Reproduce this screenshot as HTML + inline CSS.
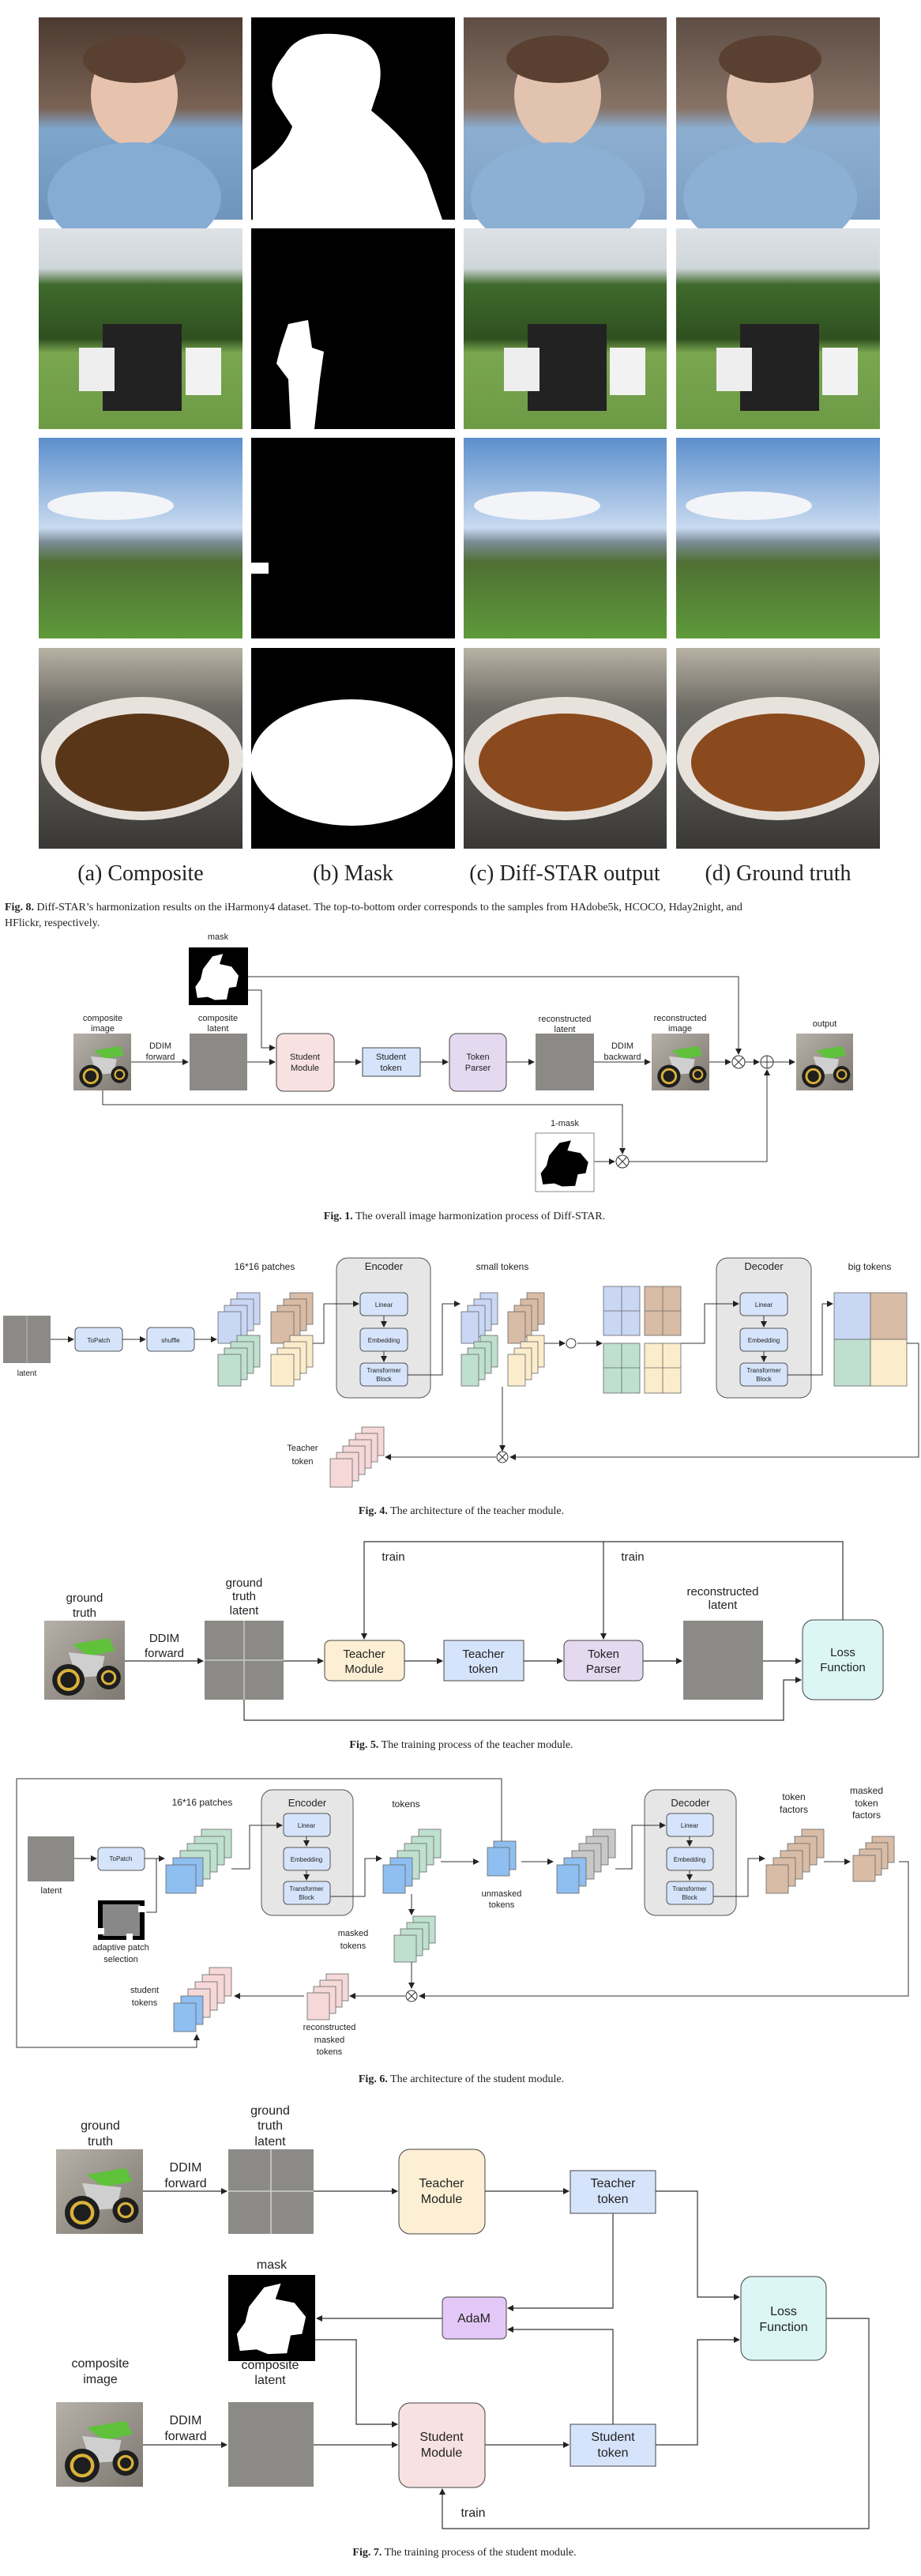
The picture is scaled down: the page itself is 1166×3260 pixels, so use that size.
<!DOCTYPE html>
<html><head><meta charset="utf-8"><style>
html,body{margin:0;padding:0;background:#fff;}
svg{display:block;}
.s{font-family:"Liberation Sans",sans-serif;fill:#222;}
.c{font-family:"Liberation Serif",serif;fill:#222;}
</style></head><body>
<svg width="1166" height="3260" viewBox="0 0 1166 3260" xmlns="http://www.w3.org/2000/svg">
<defs>
<marker id="a" markerWidth="8" markerHeight="8" refX="7" refY="4" orient="auto" markerUnits="userSpaceOnUse"><path d="M0,0 L8,4 L0,8 z" fill="#222"/></marker>
<linearGradient id="g1" x1="0" y1="0" x2="0" y2="1"><stop offset="0" stop-color="#4c3a30"/><stop offset="0.45" stop-color="#7a6355"/><stop offset="0.55" stop-color="#7fa6cc"/><stop offset="1" stop-color="#6f95bd"/></linearGradient>
<linearGradient id="g2" x1="0" y1="0" x2="0" y2="1"><stop offset="0" stop-color="#dde2e6"/><stop offset="0.2" stop-color="#cfd6da"/><stop offset="0.28" stop-color="#3f6a2c"/><stop offset="0.55" stop-color="#2f5020"/><stop offset="0.62" stop-color="#7aa650"/><stop offset="1" stop-color="#6d9a45"/></linearGradient>
<linearGradient id="g3" x1="0" y1="0" x2="0" y2="1"><stop offset="0" stop-color="#5c8fcc"/><stop offset="0.45" stop-color="#c8daf0"/><stop offset="0.52" stop-color="#7b8c96"/><stop offset="0.62" stop-color="#4f7034"/><stop offset="1" stop-color="#5e9a3a"/></linearGradient>
<linearGradient id="g4" x1="0" y1="0" x2="0" y2="1"><stop offset="0" stop-color="#b8b2a4"/><stop offset="0.3" stop-color="#6c6a64"/><stop offset="1" stop-color="#3a3836"/></linearGradient>
<linearGradient id="gm" x1="0" y1="0" x2="1" y2="1"><stop offset="0" stop-color="#b5b0a8"/><stop offset="1" stop-color="#7d7870"/></linearGradient>
<symbol id="moto" viewBox="0 0 100 100" preserveAspectRatio="none">
<rect width="100" height="100" fill="url(#gm)"/>
<path d="M35,30 L80,22 L88,38 L55,45 z" fill="#5fc23a"/>
<path d="M30,40 L75,45 L70,70 L40,72 z" fill="#cfcfcf"/>
<circle cx="30" cy="75" r="20" fill="#1e1e1e"/><circle cx="30" cy="75" r="12" fill="none" stroke="#d9b23a" stroke-width="4"/>
<circle cx="80" cy="72" r="15" fill="#1e1e1e"/><circle cx="80" cy="72" r="8" fill="none" stroke="#d9b23a" stroke-width="3"/>
</symbol>
<symbol id="mshape" viewBox="0 0 100 100" preserveAspectRatio="none">
<path d="M40,10 L62,5 L55,25 L80,30 L95,48 L90,70 L75,72 L70,95 L45,96 L30,90 L8,92 L4,70 L15,55 L20,35 z"/>
</symbol>
</defs>

<g>
<rect x="49" y="22" width="258" height="256" fill="url(#g1)"/>
<ellipse cx="170" cy="120" rx="55" ry="65" fill="#e7c2ac"/><ellipse cx="170" cy="75" rx="65" ry="30" fill="#5a4030"/>
<ellipse cx="170" cy="250" rx="110" ry="70" fill="#86acd4"/>
<rect x="318" y="22" width="258" height="256" fill="#000"/>
<path d="M360,70 Q380,35 440,45 Q490,55 480,110 L470,140 Q520,180 540,220 L560,278 L320,278 L320,215 Q360,190 370,160 L350,130 Q335,100 360,70z" fill="#fff"/>
<rect x="587" y="22" width="257" height="256" fill="url(#g1)" opacity="0.9"/>
<ellipse cx="706" cy="120" rx="55" ry="65" fill="#e2c3b0"/><ellipse cx="706" cy="75" rx="65" ry="30" fill="#5a4030"/><ellipse cx="706" cy="250" rx="110" ry="70" fill="#8cb0d4"/>
<rect x="856" y="22" width="258" height="256" fill="url(#g1)" opacity="0.9"/>
<ellipse cx="975" cy="120" rx="55" ry="65" fill="#e2c3b0"/><ellipse cx="975" cy="75" rx="65" ry="30" fill="#5a4030"/><ellipse cx="975" cy="250" rx="110" ry="70" fill="#8cb0d4"/>

<rect x="49" y="289" width="258" height="254" fill="url(#g2)"/>
<rect x="130" y="410" width="100" height="110" fill="#222"/><rect x="235" y="440" width="45" height="60" fill="#f2f2f2"/><rect x="100" y="440" width="45" height="55" fill="#eee"/>
<rect x="318" y="289" width="258" height="254" fill="#000"/>
<path d="M365,410 L390,405 L395,440 L410,445 L405,480 L398,543 L368,543 L365,480 L350,460 L355,440z" fill="#fff"/>
<rect x="587" y="289" width="257" height="254" fill="url(#g2)"/>
<rect x="668" y="410" width="100" height="110" fill="#222"/><rect x="772" y="440" width="45" height="60" fill="#f2f2f2"/><rect x="638" y="440" width="45" height="55" fill="#eee"/>
<rect x="856" y="289" width="258" height="254" fill="url(#g2)"/>
<rect x="937" y="410" width="100" height="110" fill="#222"/><rect x="1041" y="440" width="45" height="60" fill="#f2f2f2"/><rect x="907" y="440" width="45" height="55" fill="#eee"/>

<rect x="49" y="554" width="258" height="254" fill="url(#g3)"/><ellipse cx="140" cy="640" rx="80" ry="18" fill="#f2f4f8"/>
<rect x="318" y="554" width="258" height="254" fill="#000"/><rect x="318" y="712" width="22" height="14" fill="#fff"/>
<rect x="587" y="554" width="257" height="254" fill="url(#g3)"/><ellipse cx="680" cy="640" rx="80" ry="18" fill="#f2f4f8"/>
<rect x="856" y="554" width="258" height="254" fill="url(#g3)"/><ellipse cx="948" cy="640" rx="80" ry="18" fill="#f2f4f8"/>

<rect x="49" y="820" width="258" height="254" fill="url(#g4)"/><ellipse cx="180" cy="960" rx="128" ry="78" fill="#e8e2dc"/><ellipse cx="180" cy="965" rx="110" ry="62" fill="#5a3618"/>
<rect x="318" y="820" width="258" height="254" fill="#000"/><ellipse cx="445" cy="965" rx="128" ry="80" fill="#fff"/>
<rect x="587" y="820" width="257" height="254" fill="url(#g4)"/><ellipse cx="716" cy="960" rx="128" ry="78" fill="#e8e2dc"/><ellipse cx="716" cy="965" rx="110" ry="62" fill="#8a4a1e"/>
<rect x="856" y="820" width="258" height="254" fill="url(#g4)"/><ellipse cx="985" cy="960" rx="128" ry="78" fill="#e8e2dc"/><ellipse cx="985" cy="965" rx="110" ry="62" fill="#8a4a1e"/>
</g>
<g class="c" font-size="28" text-anchor="middle">
<text x="178" y="1114">(a) Composite</text><text x="447" y="1114">(b) Mask</text><text x="715" y="1114">(c) Diff-STAR output</text><text x="985" y="1114">(d) Ground truth</text>
</g>
<g class="c" font-size="14">
<text x="6" y="1152"><tspan font-weight="bold">Fig. 8.</tspan> Diff-STAR’s harmonization results on the iHarmony4 dataset. The top-to-bottom order corresponds to the samples from HAdobe5k, HCOCO, Hday2night, and</text>
<text x="6" y="1172">HFlickr, respectively.</text>
</g>

<g stroke="#333" stroke-width="1" fill="none">
<path d="M314,1236 H935 V1334" marker-end="url(#a)"/>
<path d="M314,1253 H331 V1326 H348" marker-end="url(#a)"/>
<path d="M130,1380 V1398 H788 V1460" marker-end="url(#a)"/>
<path d="M166,1344 H238" marker-end="url(#a)"/><path d="M313,1344 H348" marker-end="url(#a)"/>
<path d="M423,1344 H457" marker-end="url(#a)"/><path d="M532,1344 H567" marker-end="url(#a)"/>
<path d="M641,1344 H676" marker-end="url(#a)"/><path d="M752,1344 H823" marker-end="url(#a)"/>
<path d="M898,1344 H925" marker-end="url(#a)"/><path d="M943,1344 H961" marker-end="url(#a)"/>
<path d="M979,1344 H1006" marker-end="url(#a)"/>
<path d="M752,1470 H778" marker-end="url(#a)"/><path d="M796,1470 H971 V1354" marker-end="url(#a)"/>
<circle cx="935" cy="1344" r="8"/><path d="M929,1338 L941,1350 M941,1338 L929,1350"/>
<circle cx="971" cy="1344" r="8"/><path d="M963,1344 H979 M971,1336 V1352"/>
<circle cx="788" cy="1470" r="8"/><path d="M782,1464 L794,1476 M794,1464 L782,1476"/>
</g>
<rect x="239" y="1199" width="75" height="73" fill="#000"/><use href="#mshape" x="245" y="1204" width="60" height="64" fill="#fff"/>
<use href="#moto" x="93" y="1308" width="73" height="72"/>
<rect x="240" y="1308" width="73" height="72" fill="#8b8a86"/>
<rect x="350" y="1308" width="73" height="73" rx="9" fill="#f7e1e1" stroke="#444"/>
<rect x="459" y="1326" width="73" height="36" fill="#d6e4fb" stroke="#444"/>
<rect x="569" y="1308" width="72" height="73" rx="9" fill="#e5d9f0" stroke="#444"/>
<rect x="678" y="1308" width="74" height="72" fill="#8b8a86"/>
<use href="#moto" x="825" y="1308" width="73" height="72"/>
<use href="#moto" x="1008" y="1308" width="72" height="72"/>
<rect x="678" y="1434" width="74" height="74" fill="#fff" stroke="#888"/><use href="#mshape" x="682" y="1440" width="66" height="64" fill="#000"/>
<g class="s" font-size="11" text-anchor="middle">
<text x="276" y="1189">mask</text>
<text x="130" y="1292">composite</text><text x="130" y="1305">image</text>
<text x="276" y="1292">composite</text><text x="276" y="1305">latent</text>
<text x="203" y="1327">DDIM</text><text x="203" y="1341">forward</text>
<text x="386" y="1341">Student</text><text x="386" y="1355">Module</text>
<text x="495" y="1341">Student</text><text x="495" y="1355">token</text>
<text x="605" y="1341">Token</text><text x="605" y="1355">Parser</text>
<text x="715" y="1293">reconstructed</text><text x="715" y="1306">latent</text>
<text x="788" y="1327">DDIM</text><text x="788" y="1341">backward</text>
<text x="861" y="1292">reconstructed</text><text x="861" y="1305">image</text>
<text x="1044" y="1299">output</text>
<text x="715" y="1425">1-mask</text>
</g>
<text class="c" x="588" y="1543" font-size="14" text-anchor="middle"><tspan font-weight="bold">Fig. 1.</tspan> The overall image harmonization process of Diff-STAR.</text>

<g stroke="#555" stroke-width="1">
<rect x="426" y="1592" width="119" height="177" rx="14" fill="#e6e6e6"/>
<rect x="907" y="1592" width="120" height="177" rx="14" fill="#e6e6e6"/>
<rect x="456" y="1636" width="60" height="29" rx="5" fill="#d6e4fb"/><rect x="456" y="1681" width="60" height="29" rx="5" fill="#d6e4fb"/><rect x="456" y="1725" width="60" height="29" rx="5" fill="#d6e4fb"/>
<rect x="937" y="1636" width="60" height="29" rx="5" fill="#d6e4fb"/><rect x="937" y="1681" width="60" height="29" rx="5" fill="#d6e4fb"/><rect x="937" y="1725" width="60" height="29" rx="5" fill="#d6e4fb"/>
<rect x="95" y="1680" width="60" height="30" rx="5" fill="#d6e4fb"/><rect x="186" y="1680" width="60" height="30" rx="5" fill="#d6e4fb"/>
</g>
<rect x="4" y="1665" width="60" height="60" fill="#8b8a86"/><path d="M34,1665 V1725" stroke="#bbb"/>
<g stroke="#666" stroke-width="0.8">
<g fill="#c9d7f5"><rect x="300" y="1636" width="29" height="40"/><rect x="292" y="1644" width="29" height="40"/><rect x="284" y="1652" width="29" height="40"/><rect x="276" y="1660" width="29" height="40"/></g>
<g fill="#d9bca6"><rect x="367" y="1636" width="29" height="40"/><rect x="359" y="1644" width="29" height="40"/><rect x="351" y="1652" width="29" height="40"/><rect x="343" y="1660" width="29" height="40"/></g>
<g fill="#bfe0cf"><rect x="300" y="1690" width="29" height="40"/><rect x="292" y="1698" width="29" height="40"/><rect x="284" y="1706" width="29" height="40"/><rect x="276" y="1714" width="29" height="40"/></g>
<g fill="#fbeccc"><rect x="367" y="1690" width="29" height="40"/><rect x="359" y="1698" width="29" height="40"/><rect x="351" y="1706" width="29" height="40"/><rect x="343" y="1714" width="29" height="40"/></g>
<g fill="#c9d7f5"><rect x="608" y="1636" width="22" height="40"/><rect x="600" y="1644" width="22" height="40"/><rect x="592" y="1652" width="22" height="40"/><rect x="584" y="1660" width="22" height="40"/></g>
<g fill="#d9bca6"><rect x="667" y="1636" width="22" height="40"/><rect x="659" y="1644" width="22" height="40"/><rect x="651" y="1652" width="22" height="40"/><rect x="643" y="1660" width="22" height="40"/></g>
<g fill="#bfe0cf"><rect x="608" y="1690" width="22" height="40"/><rect x="600" y="1698" width="22" height="40"/><rect x="592" y="1706" width="22" height="40"/><rect x="584" y="1714" width="22" height="40"/></g>
<g fill="#fbeccc"><rect x="667" y="1690" width="22" height="40"/><rect x="659" y="1698" width="22" height="40"/><rect x="651" y="1706" width="22" height="40"/><rect x="643" y="1714" width="22" height="40"/></g>
<rect x="764" y="1628" width="46" height="62" fill="#c9d7f5"/><path d="M787,1628 V1690 M764,1659 H810"/>
<rect x="816" y="1628" width="46" height="62" fill="#d9bca6"/><path d="M839,1628 V1690 M816,1659 H862"/>
<rect x="764" y="1700" width="46" height="63" fill="#bfe0cf"/><path d="M787,1700 V1763 M764,1731 H810"/>
<rect x="816" y="1700" width="46" height="63" fill="#fbeccc"/><path d="M839,1700 V1763 M816,1731 H862"/>
<rect x="1056" y="1636" width="46" height="59" fill="#c9d7f5"/><rect x="1102" y="1636" width="46" height="59" fill="#d9bca6"/>
<rect x="1056" y="1695" width="46" height="59" fill="#bfe0cf"/><rect x="1102" y="1695" width="46" height="59" fill="#fbeccc"/>
<g fill="#f6d8d8"><rect x="458" y="1806" width="28" height="36"/><rect x="450" y="1814" width="28" height="36"/><rect x="442" y="1822" width="28" height="36"/><rect x="434" y="1830" width="28" height="36"/><rect x="426" y="1838" width="28" height="36"/><rect x="418" y="1846" width="28" height="36"/></g>
</g>
<g stroke="#333" stroke-width="1" fill="none">
<path d="M64,1695 H93" marker-end="url(#a)"/><path d="M155,1695 H184" marker-end="url(#a)"/><path d="M246,1695 H274" marker-end="url(#a)"/>
<path d="M396,1700 H410 V1650 H454" marker-end="url(#a)"/>
<path d="M486,1665 V1679" marker-end="url(#a)"/><path d="M486,1710 V1723" marker-end="url(#a)"/>
<path d="M967,1665 V1679" marker-end="url(#a)"/><path d="M967,1710 V1723" marker-end="url(#a)"/>
<path d="M516,1740 H560 V1650 H582" marker-end="url(#a)"/>
<path d="M689,1700 H715" marker-end="url(#a)"/><path d="M731,1700 H762" marker-end="url(#a)"/>
<circle cx="723" cy="1700" r="6"/>
<path d="M862,1700 H892 V1650 H935" marker-end="url(#a)"/>
<path d="M997,1740 H1041 V1650 H1054" marker-end="url(#a)"/>
<path d="M1148,1700 H1163 V1844 H646" marker-end="url(#a)"/>
<path d="M636,1755 V1836" marker-end="url(#a)"/>
<path d="M628,1844 H488" marker-end="url(#a)"/>
<circle cx="636" cy="1844" r="7"/><path d="M631,1839 L641,1849 M641,1839 L631,1849"/>
</g>
<g class="s" font-size="12" text-anchor="middle">
<text x="335" y="1607">16*16 patches</text><text x="486" y="1607" font-size="13">Encoder</text>
<text x="636" y="1607">small tokens</text><text x="967" y="1607" font-size="13">Decoder</text><text x="1101" y="1607">big tokens</text>
<text x="34" y="1741" font-size="10">latent</text>
<text x="125" y="1699" font-size="8">ToPatch</text><text x="216" y="1699" font-size="8">shuffle</text>
<text x="486" y="1654" font-size="8">Linear</text><text x="486" y="1699" font-size="8">Embedding</text><text x="486" y="1737" font-size="8">Transformer</text><text x="486" y="1748" font-size="8">Block</text>
<text x="967" y="1654" font-size="8">Linear</text><text x="967" y="1699" font-size="8">Embedding</text><text x="967" y="1737" font-size="8">Transformer</text><text x="967" y="1748" font-size="8">Block</text>
<text x="383" y="1836" font-size="11">Teacher</text><text x="383" y="1853" font-size="11">token</text>
</g>
<text class="c" x="584" y="1916" font-size="14" text-anchor="middle"><tspan font-weight="bold">Fig. 4.</tspan> The architecture of the teacher module.</text>

<g stroke="#333" stroke-width="1.2" fill="none">
<path d="M1067,2050 V1951 H461 V2074" marker-end="url(#a)"/><path d="M764,1951 V2074" marker-end="url(#a)"/>
<path d="M158,2102 H257" marker-end="url(#a)"/><path d="M359,2102 H409" marker-end="url(#a)"/>
<path d="M512,2102 H560" marker-end="url(#a)"/><path d="M663,2102 H712" marker-end="url(#a)"/>
<path d="M814,2102 H863" marker-end="url(#a)"/><path d="M966,2102 H1014" marker-end="url(#a)"/>
<path d="M309,2151 V2177 H992 V2126 H1014" marker-end="url(#a)"/>
</g>
<use href="#moto" x="56" y="2051" width="102" height="100"/>
<rect x="259" y="2051" width="100" height="100" fill="#8b8a86"/><path d="M309,2051 V2151 M259,2101 H359" stroke="#c8c8c8" stroke-width="1.5"/>
<rect x="411" y="2076" width="101" height="51" rx="7" fill="#fcefd4" stroke="#444"/>
<rect x="562" y="2076" width="101" height="51" fill="#d6e4fb" stroke="#444"/>
<rect x="714" y="2076" width="100" height="51" rx="7" fill="#e5d9f0" stroke="#444"/>
<rect x="865" y="2051" width="101" height="100" fill="#8b8a86"/>
<rect x="1016" y="2050" width="102" height="101" rx="14" fill="#dcf5f5" stroke="#444"/>
<g class="s" font-size="15" text-anchor="middle">
<text x="498" y="1975">train</text><text x="801" y="1975">train</text>
<text x="107" y="2027">ground</text><text x="107" y="2046">truth</text>
<text x="309" y="2008">ground</text><text x="309" y="2025">truth</text><text x="309" y="2043">latent</text>
<text x="208" y="2078">DDIM</text><text x="208" y="2097">forward</text>
<text x="461" y="2098">Teacher</text><text x="461" y="2117">Module</text>
<text x="612" y="2098">Teacher</text><text x="612" y="2117">token</text>
<text x="764" y="2098">Token</text><text x="764" y="2117">Parser</text>
<text x="915" y="2019">reconstructed</text><text x="915" y="2036">latent</text>
<text x="1067" y="2096">Loss</text><text x="1067" y="2115">Function</text>
</g>
<text class="c" x="584" y="2212" font-size="14" text-anchor="middle"><tspan font-weight="bold">Fig. 5.</tspan> The training process of the teacher module.</text>

<g stroke="#555" stroke-width="1">
<rect x="331" y="2265" width="116" height="159" rx="14" fill="#e6e6e6"/>
<rect x="816" y="2265" width="116" height="159" rx="14" fill="#e6e6e6"/>
<g fill="#d6e4fb"><rect x="359" y="2295" width="59" height="29" rx="5"/><rect x="359" y="2338" width="59" height="29" rx="5"/><rect x="359" y="2381" width="59" height="29" rx="5"/>
<rect x="844" y="2295" width="59" height="29" rx="5"/><rect x="844" y="2338" width="59" height="29" rx="5"/><rect x="844" y="2381" width="59" height="29" rx="5"/>
<rect x="124" y="2338" width="59" height="29" rx="5"/></g>
</g>
<rect x="35" y="2324" width="59" height="57" fill="#8b8a86"/>
<rect x="124" y="2405" width="59" height="50" fill="#000"/><rect x="130" y="2410" width="47" height="40" fill="#888"/><rect x="124" y="2440" width="8" height="8" fill="#fff"/><rect x="175" y="2412" width="8" height="8" fill="#fff"/><rect x="160" y="2447" width="8" height="8" fill="#fff"/>
<g stroke="#666" stroke-width="0.8">
<g fill="#bfe0cf"><rect x="255" y="2315" width="38" height="36"/><rect x="246" y="2324" width="38" height="36"/><rect x="237" y="2333" width="38" height="36"/><rect x="228" y="2342" width="38" height="36"/></g>
<g fill="#8fbef0"><rect x="219" y="2351" width="38" height="36"/><rect x="210" y="2360" width="38" height="36"/></g>
<g fill="#bfe0cf"><rect x="530" y="2315" width="28" height="36"/><rect x="521" y="2324" width="28" height="36"/><rect x="512" y="2333" width="28" height="36"/><rect x="503" y="2342" width="28" height="36"/></g>
<g fill="#8fbef0"><rect x="494" y="2351" width="28" height="36"/><rect x="485" y="2360" width="28" height="36"/></g>
<g fill="#8fbef0"><rect x="625" y="2330" width="28" height="36"/><rect x="617" y="2338" width="28" height="36"/></g>
<g fill="#c8c8c8"><rect x="751" y="2315" width="28" height="36"/><rect x="742" y="2324" width="28" height="36"/><rect x="733" y="2333" width="28" height="36"/><rect x="724" y="2342" width="28" height="36"/></g>
<g fill="#8fbef0"><rect x="714" y="2351" width="28" height="36"/><rect x="705" y="2360" width="28" height="36"/></g>
<g fill="#d9bca6"><rect x="1015" y="2315" width="28" height="36"/><rect x="1006" y="2324" width="28" height="36"/><rect x="997" y="2333" width="28" height="36"/><rect x="988" y="2342" width="28" height="36"/><rect x="979" y="2351" width="28" height="36"/><rect x="970" y="2360" width="28" height="36"/></g>
<g fill="#d9bca6"><rect x="1104" y="2324" width="28" height="33"/><rect x="1096" y="2332" width="28" height="33"/><rect x="1088" y="2340" width="28" height="33"/><rect x="1080" y="2348" width="28" height="33"/></g>
<g fill="#bfe0cf"><rect x="523" y="2425" width="28" height="34"/><rect x="515" y="2433" width="28" height="34"/><rect x="507" y="2441" width="28" height="34"/><rect x="499" y="2449" width="28" height="34"/></g>
<g fill="#f6d8d8"><rect x="413" y="2498" width="28" height="34"/><rect x="405" y="2506" width="28" height="34"/><rect x="397" y="2514" width="28" height="34"/><rect x="389" y="2522" width="28" height="34"/></g>
<g fill="#f6d8d8"><rect x="265" y="2490" width="28" height="36"/><rect x="256" y="2499" width="28" height="36"/><rect x="247" y="2508" width="28" height="36"/><rect x="238" y="2517" width="28" height="36"/></g>
<g fill="#8fbef0"><rect x="229" y="2526" width="28" height="36"/><rect x="220" y="2535" width="28" height="36"/></g>
</g>
<g stroke="#333" stroke-width="1" fill="none">
<path d="M635,2330 V2251 H21 V2591 H249 V2575" marker-end="url(#a)"/>
<path d="M94,2352 H122" marker-end="url(#a)"/><path d="M183,2352 H208" marker-end="url(#a)"/>
<path d="M198,2352 V2420 H185"/>
<path d="M293,2365 H316 V2310 H357" marker-end="url(#a)"/>
<path d="M388,2324 V2336" marker-end="url(#a)"/><path d="M388,2367 V2379" marker-end="url(#a)"/>
<path d="M873,2324 V2336" marker-end="url(#a)"/><path d="M873,2367 V2379" marker-end="url(#a)"/>
<path d="M418,2400 H462 V2352 H483" marker-end="url(#a)"/>
<path d="M558,2356 H606" marker-end="url(#a)"/><path d="M660,2356 H700" marker-end="url(#a)"/>
<path d="M779,2365 H800 V2310 H842" marker-end="url(#a)"/>
<path d="M903,2400 H947 V2352 H968" marker-end="url(#a)"/>
<path d="M1043,2356 H1076" marker-end="url(#a)"/>
<path d="M1138,2356 H1150 V2526 H531" marker-end="url(#a)"/>
<path d="M521,2397 V2423" marker-end="url(#a)"/><path d="M521,2483 V2516" marker-end="url(#a)"/>
<path d="M513,2526 H443" marker-end="url(#a)"/><path d="M385,2526 H297" marker-end="url(#a)"/>
<circle cx="521" cy="2526" r="7"/><path d="M516,2521 L526,2531 M526,2521 L516,2531"/>
</g>
<g class="s" font-size="11" text-anchor="middle">
<text x="256" y="2285" font-size="12">16*16 patches</text><text x="389" y="2286" font-size="13">Encoder</text>
<text x="514" y="2287" font-size="12">tokens</text><text x="874" y="2286" font-size="13">Decoder</text>
<text x="1005" y="2278" font-size="12">token</text><text x="1005" y="2294" font-size="12">factors</text>
<text x="1097" y="2270" font-size="12">masked</text><text x="1097" y="2286" font-size="12">token</text><text x="1097" y="2301" font-size="12">factors</text>
<text x="65" y="2396">latent</text>
<text x="153" y="2355" font-size="8">ToPatch</text>
<text x="388" y="2313" font-size="8">Linear</text><text x="388" y="2356" font-size="8">Embedding</text><text x="388" y="2393" font-size="8">Transformer</text><text x="388" y="2404" font-size="8">Block</text>
<text x="873" y="2313" font-size="8">Linear</text><text x="873" y="2356" font-size="8">Embedding</text><text x="873" y="2393" font-size="8">Transformer</text><text x="873" y="2404" font-size="8">Block</text>
<text x="635" y="2400">unmasked</text><text x="635" y="2414">tokens</text>
<text x="153" y="2468">adaptive patch</text><text x="153" y="2483">selection</text>
<text x="447" y="2450">masked</text><text x="447" y="2466">tokens</text>
<text x="183" y="2522">student</text><text x="183" y="2538">tokens</text>
<text x="417" y="2569">reconstructed</text><text x="417" y="2585">masked</text><text x="417" y="2600">tokens</text>
</g>
<text class="c" x="584" y="2635" font-size="14" text-anchor="middle"><tspan font-weight="bold">Fig. 6.</tspan> The architecture of the student module.</text>

<g stroke="#333" stroke-width="1.2" fill="none">
<path d="M181,2773 H287" marker-end="url(#a)"/><path d="M397,2773 H503" marker-end="url(#a)"/><path d="M614,2773 H720" marker-end="url(#a)"/>
<path d="M181,3094 H287" marker-end="url(#a)"/><path d="M397,3094 H503" marker-end="url(#a)"/><path d="M614,3094 H720" marker-end="url(#a)"/>
<path d="M830,2773 H883 V2907 H936" marker-end="url(#a)"/>
<path d="M830,3094 H883 V2961 H936" marker-end="url(#a)"/>
<path d="M776,2801 V2921 H643" marker-end="url(#a)"/>
<path d="M776,3068 V2948 H643" marker-end="url(#a)"/>
<path d="M560,2934 H401" marker-end="url(#a)"/>
<path d="M399,2961 H451 V3068 H503" marker-end="url(#a)"/>
<path d="M1046,2934 H1100 V3200 H560 V3150" marker-end="url(#a)"/>
</g>
<use href="#moto" x="71" y="2720" width="110" height="107"/>
<rect x="289" y="2720" width="108" height="107" fill="#8b8a86"/><path d="M343,2720 V2827 M289,2773 H397" stroke="#d0d0d0" stroke-width="1.5"/>
<rect x="505" y="2720" width="109" height="107" rx="14" fill="#fcefd4" stroke="#444"/>
<rect x="722" y="2747" width="108" height="54" fill="#d6e4fb" stroke="#444"/>
<rect x="289" y="2879" width="110" height="109" fill="#000"/><use href="#mshape" x="296" y="2885" width="96" height="98" fill="#fff"/>
<rect x="560" y="2907" width="81" height="53" rx="6" fill="#e3c8f7" stroke="#444"/>
<rect x="938" y="2881" width="108" height="106" rx="14" fill="#dcf5f5" stroke="#444"/>
<use href="#moto" x="71" y="3040" width="110" height="107"/>
<rect x="289" y="3040" width="108" height="107" fill="#8b8a86"/>
<rect x="505" y="3041" width="109" height="107" rx="14" fill="#f7e1e1" stroke="#444"/>
<rect x="722" y="3068" width="108" height="53" fill="#d6e4fb" stroke="#444"/>
<g class="s" font-size="16" text-anchor="middle">
<text x="127" y="2695">ground</text><text x="127" y="2715">truth</text>
<text x="342" y="2676">ground</text><text x="342" y="2695">truth</text><text x="342" y="2715">latent</text>
<text x="235" y="2748">DDIM</text><text x="235" y="2768">forward</text>
<text x="559" y="2768">Teacher</text><text x="559" y="2788">Module</text>
<text x="776" y="2768">Teacher</text><text x="776" y="2788">token</text>
<text x="344" y="2871">mask</text>
<text x="600" y="2939">AdaM</text>
<text x="992" y="2930">Loss</text><text x="992" y="2950">Function</text>
<text x="127" y="2996">composite</text><text x="127" y="3016">image</text>
<text x="342" y="2998">composite</text><text x="342" y="3017">latent</text>
<text x="235" y="3068">DDIM</text><text x="235" y="3088">forward</text>
<text x="559" y="3089">Student</text><text x="559" y="3109">Module</text>
<text x="776" y="3089">Student</text><text x="776" y="3109">token</text>
<text x="599" y="3185">train</text>
</g>
<text class="c" x="588" y="3234" font-size="14" text-anchor="middle"><tspan font-weight="bold">Fig. 7.</tspan> The training process of the student module.</text>
</svg>
</body></html>
